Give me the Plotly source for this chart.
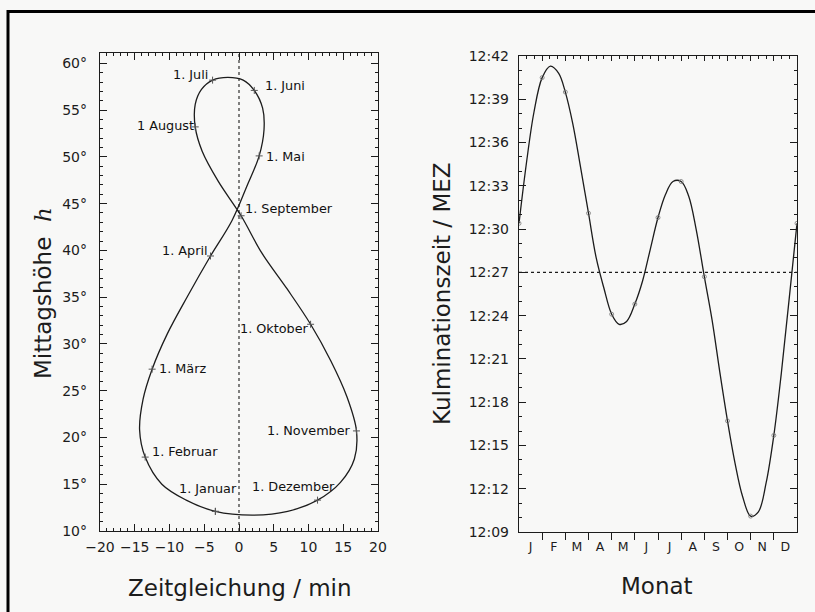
import plotly.graph_objects as go

# Sampling dates: 1st, 11th and 21st of every month, closing with 1 January
DAY_OF_MONTH = [1, 11, 21] * 12 + [1]
MONTH_INDEX = [m for m in range(12) for _ in range(3)] + [12]
DAYS_IN_MONTH = [31, 28, 31, 30, 31, 30, 31, 31, 30, 31, 30, 31]

# Equation of time (minutes) on those dates
ZEITGLEICHUNG = [-3.4, -7.6, -11.1, -13.5, -14.3, -13.8, -12.5, -10.3, -7.4,
                 -4.1, -1.0, 1.1, 2.9, 3.6, 3.4, 2.2, 0.6, -1.6,
                 -3.8, -5.4, -6.3, -6.3, -5.3, -3.0, 0.3, 3.3, 6.9,
                 10.3, 13.2, 15.5, 16.9, 16.6, 14.6, 11.3, 7.0, 2.1, -3.4]

# Noon altitude of the sun (degrees) on those dates
MITTAGSHOEHE = [12.1, 13.3, 15.0, 17.9, 20.8, 24.1, 27.3, 31.1, 35.1,
                39.4, 43.2, 46.8, 50.1, 52.9, 55.2, 57.1, 58.2, 58.5,
                58.2, 57.2, 55.6, 53.2, 50.6, 47.4, 43.7, 39.7, 35.9,
                32.1, 28.2, 24.4, 20.7, 17.7, 15.2, 13.3, 12.1, 11.7, 12.1]

# Culmination time, minutes after 12:00 MEZ, on those dates
KULMINATION_MIN = [30.4, 34.6, 38.1, 40.5, 41.3, 40.8, 39.5, 37.3, 34.4,
                   31.1, 28.0, 25.9, 24.1, 23.4, 23.6, 24.8, 26.4, 28.6,
                   30.8, 32.4, 33.3, 33.3, 32.3, 30.0, 26.7, 23.7, 20.1,
                   16.7, 13.8, 11.5, 10.1, 10.4, 12.4, 15.7, 20.0, 24.9, 30.4]

MITTEL_MIN = 27  # mean culmination 12:27

# Date labels on the analemma: text, x (min), y (deg)
DATUM_TEXT = ["1. Juli", "1. Juni", "1 August", "1. Mai", "1. September",
              "1. April", "1. Oktober", "1. März", "1. November",
              "1. Februar", "1. Januar", "1. Dezember"]
DATUM_X = [-7.0, 6.6, -10.6, 6.7, 7.2, -7.8, 5.1, -8.1, 10.1, -7.8, -4.5, 7.8]
DATUM_Y = [58.8, 57.6, 53.3, 50.0, 44.5, 40.0, 31.7, 27.4, 20.7, 18.5, 14.5, 14.8]

MONATE = ["J", "F", "M", "A", "M", "J", "J", "A", "S", "O", "N", "D"]
ZEIT_TICKS = list(range(9, 43, 3))

FONT = "DejaVu Sans"
INK = "#1c1c1c"

# Position of each sample within the year, in months
monat_pos = [m + (d - 1) / DAYS_IN_MONTH[m] if m < 12 else 12.0
             for m, d in zip(MONTH_INDEX, DAY_OF_MONTH)]
erster = [i for i, d in enumerate(DAY_OF_MONTH) if d == 1]

fig = go.Figure()

# Analemma
fig.add_trace(go.Scatter(
    x=ZEITGLEICHUNG, y=MITTAGSHOEHE, mode="lines",
    line=dict(color=INK, width=1.3, shape="spline", smoothing=1.0),
    xaxis="x", yaxis="y", hoverinfo="skip", showlegend=False))
fig.add_trace(go.Scatter(
    x=[ZEITGLEICHUNG[i] for i in erster], y=[MITTAGSHOEHE[i] for i in erster],
    mode="markers", marker=dict(symbol="cross-thin", size=5, color="#555",
                                line=dict(color="#555", width=1)),
    xaxis="x", yaxis="y", hoverinfo="skip", showlegend=False))

# Culmination time over the year
fig.add_trace(go.Scatter(
    x=monat_pos, y=KULMINATION_MIN, mode="lines",
    line=dict(color=INK, width=1.3, shape="spline", smoothing=1.0),
    xaxis="x2", yaxis="y2", hoverinfo="skip", showlegend=False))
fig.add_trace(go.Scatter(
    x=[monat_pos[i] for i in erster], y=[KULMINATION_MIN[i] for i in erster],
    mode="markers", marker=dict(symbol="circle-open", size=4, color="#777",
                                line=dict(color="#777", width=0.8)),
    xaxis="x2", yaxis="y2", hoverinfo="skip", showlegend=False))
# carrier for the top/right tick axes of the right panel
fig.add_trace(go.Scatter(x=[None], y=[None], mode="lines", xaxis="x3",
                         yaxis="y3", hoverinfo="skip", showlegend=False))

for t, x, y in zip(DATUM_TEXT, DATUM_X, DATUM_Y):
    fig.add_annotation(x=x, y=y, xref="x", yref="y", text=t, showarrow=False,
                       xanchor="center", yanchor="middle",
                       font=dict(family=FONT, size=12.8, color="#111"))

tick_font = dict(family=FONT, size=14, color=INK)
axis_common = dict(showgrid=False, zeroline=False, showline=True,
                   linecolor=INK, linewidth=1.4, tickcolor=INK,
                   tickfont=tick_font, automargin=False)

dom_left = [100 / 815, 378 / 815]
dom_right = [519 / 815, 797 / 815]
dom_y_left = [(612 - 531) / 612, (612 - 53) / 612]
dom_y_right = [(612 - 532) / 612, (612 - 56) / 612]

fig.update_layout(
    width=815, height=612,
    margin=dict(l=0, r=0, t=0, b=0, pad=0, autoexpand=False),
    paper_bgcolor="#f8f8f7", plot_bgcolor="#f8f8f7",
    xaxis=dict(domain=dom_left, range=[-20, 20], tick0=-20, dtick=5,
               ticks="inside", ticklen=7, tickwidth=1.1, mirror="ticks",
               minor=dict(dtick=1, ticks="inside", ticklen=3, tickcolor=INK,
                          showgrid=False),
               ticklabelstandoff=3, anchor="y", **axis_common),
    yaxis=dict(domain=dom_y_left, range=[10, 61.1], tick0=10, dtick=5,
               ticksuffix="°", ticks="inside", ticklen=7, tickwidth=1.1,
               mirror="ticks",
               minor=dict(dtick=1, ticks="inside", ticklen=3, tickcolor=INK,
                          showgrid=False),
               ticklabelstandoff=9, anchor="x", **axis_common),
    xaxis2=dict(domain=dom_right, range=[0, 12], tickmode="array",
                tickvals=[m + 0.5 for m in range(12)], ticktext=MONATE,
                ticks="", mirror=True,
                minor=dict(tickmode="array", tickvals=list(range(1, 12)),
                           ticks="outside", ticklen=7, tickcolor=INK,
                           showgrid=False),
                ticklabelstandoff=3, anchor="y2",
                **{**axis_common, "tickfont": dict(family=FONT, size=12.5,
                                                   color=INK)}),
    yaxis2=dict(domain=dom_y_right, range=[9, 42], tickmode="array",
                tickvals=ZEIT_TICKS,
                ticktext=[f"12:{v:02d}" for v in ZEIT_TICKS],
                ticks="inside", ticklen=7, tickwidth=1.1, mirror=True,
                minor=dict(dtick=1, tick0=9, ticks="inside", ticklen=3,
                           tickcolor=INK, showgrid=False),
                ticklabelstandoff=6, anchor="x2", **axis_common),
    xaxis3=dict(overlaying="x2", side="top", range=[0, 12], anchor="y3",
                showgrid=False, zeroline=False, showline=False,
                automargin=False,
                tick0=0, dtick=1, ticks="inside", ticklen=5, tickcolor=INK,
                showticklabels=False,
                minor=dict(dtick=1 / 3, ticks="inside", ticklen=3,
                           tickcolor=INK, showgrid=False)),
    yaxis3=dict(overlaying="y2", side="right", range=[9, 42], anchor="x3",
                showgrid=False, zeroline=False, showline=False,
                automargin=False,
                tick0=12, dtick=6, ticks="inside", ticklen=7, tickcolor=INK,
                showticklabels=False,
                minor=dict(dtick=1, ticks="inside", ticklen=3,
                           tickcolor=INK, showgrid=False)),
    shapes=[
        dict(type="line", xref="x", yref="y", x0=0, x1=0, y0=10, y1=61.1,
             line=dict(color=INK, width=1.1, dash="dot")),
        dict(type="line", xref="x2", yref="y2", x0=0, x1=12,
             y0=MITTEL_MIN, y1=MITTEL_MIN,
             line=dict(color=INK, width=1.1, dash="dot")),
        # outer frame of the figure
        dict(type="path", xref="paper", yref="paper",
             path=f"M {8/815} -0.05 L {8/815} {1-11.5/612} L 1.05 {1-11.5/612}",
             line=dict(color="#000", width=3)),
    ],
)

title_font = dict(family=FONT, size=23, color=INK)
fig.add_annotation(xref="paper", yref="paper", x=240 / 815, y=1 - 588 / 612,
                   text="Zeitgleichung / min", showarrow=False,
                   xanchor="center", yanchor="middle", font=title_font)
fig.add_annotation(xref="paper", yref="paper", x=657 / 815, y=1 - 586 / 612,
                   text="Monat", showarrow=False,
                   xanchor="center", yanchor="middle", font=title_font)
fig.add_annotation(xref="paper", yref="paper", x=43 / 815, y=1 - 293 / 612,
                   text="Mittagshöhe  <span style='font-family:DejaVu Serif'>"
                        "<i>h</i></span>",
                   showarrow=False, textangle=-90,
                   xanchor="center", yanchor="middle", font=title_font)
fig.add_annotation(xref="paper", yref="paper", x=442 / 815, y=1 - 294 / 612,
                   text="Kulminationszeit / MEZ", showarrow=False,
                   textangle=-90, xanchor="center", yanchor="middle",
                   font=title_font)

fig.write_html("out.html")
